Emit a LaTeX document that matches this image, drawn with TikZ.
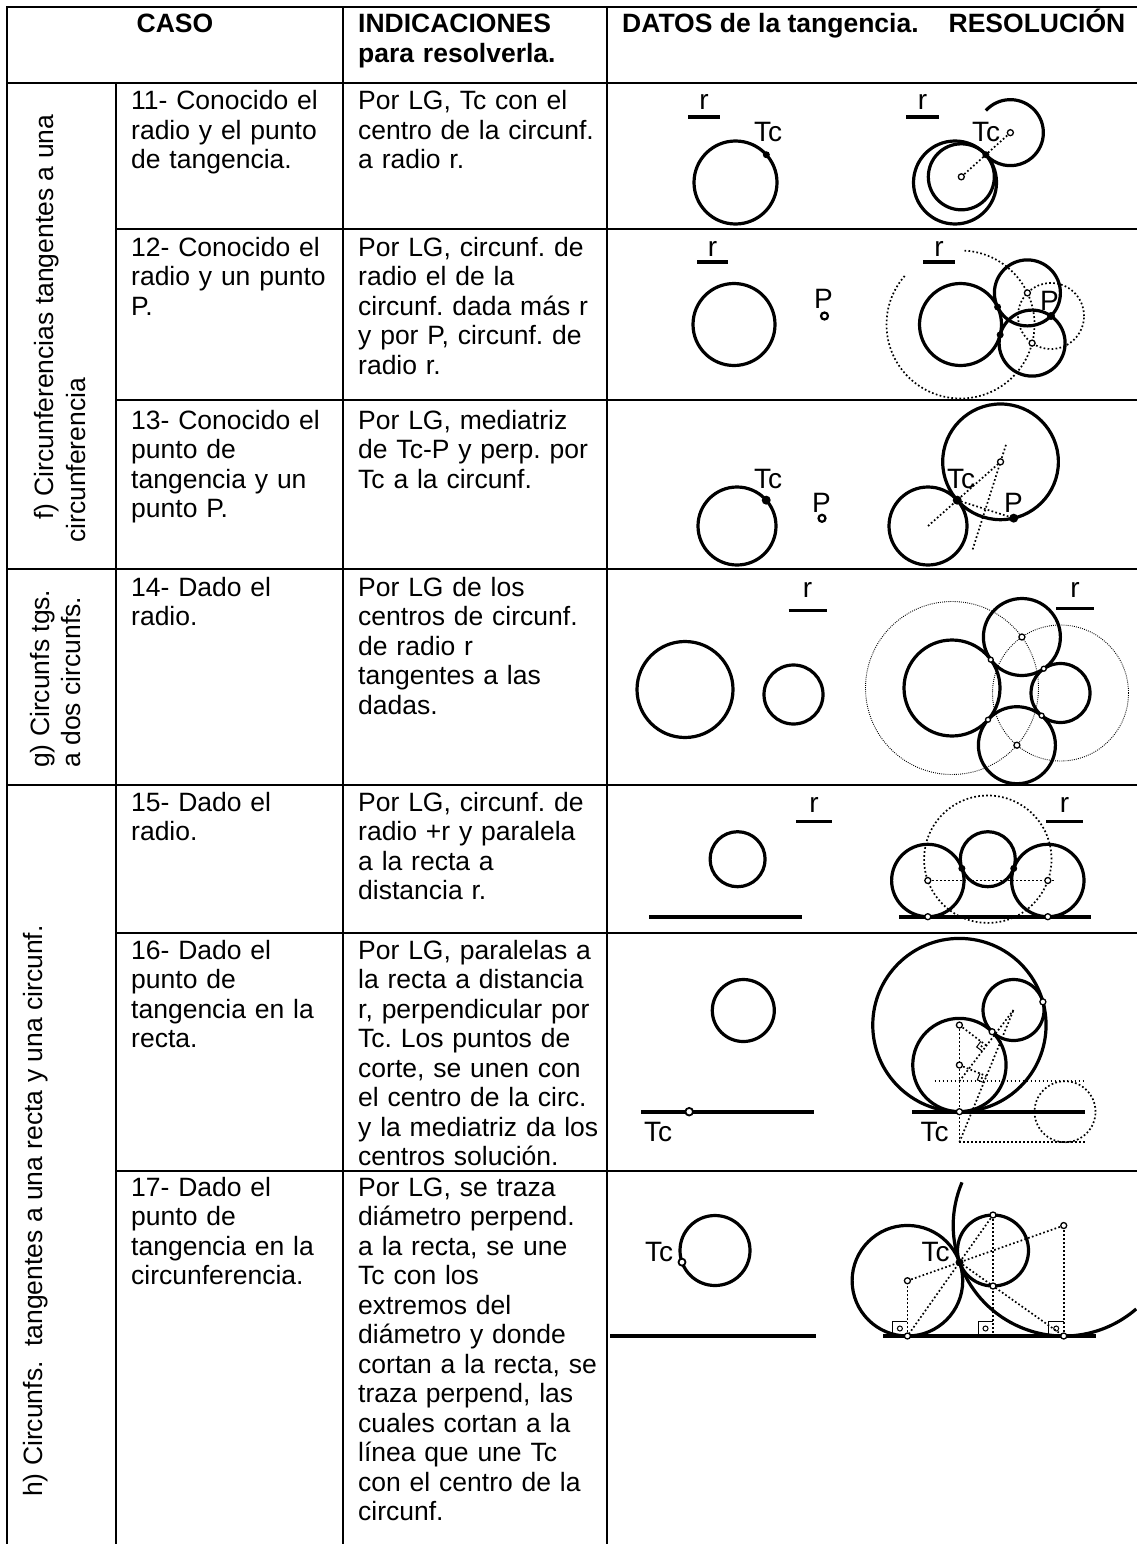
\documentclass[tikz,border=0pt]{standalone}
\usepackage{fontspec}
\setmainfont{Liberation Sans}
\usetikzlibrary{calc}
\frenchspacing

\newcommand\cellfont{\fontsize{26.5}{29.5}\selectfont}
\newcommand\lblfont{\fontsize{28}{30}\selectfont}

\tikzset{
  grid/.style={line width=2.6pt, line cap=rect},
  circ/.style={line width=3.2pt},
  recta/.style={line width=4pt},
  rbar/.style={line width=3.4pt},
  aux/.style={line width=1.7pt, dash pattern=on 1.7pt off 2.3pt},
  auxfine/.style={line width=0.9pt, dash pattern=on 0.9pt off 1.2pt},
  cen/.style={line width=1.3pt, fill=white},
  ring/.style={line width=2.2pt, fill=white},
  angmark/.style={line width=1pt},
  cell/.style={anchor=base west, inner sep=0pt, align=left, text width=250pt, font=\cellfont},
  head/.style={anchor=base west, inner sep=0pt, font=\cellfont\bfseries},
  side/.style={anchor=base west, inner sep=0pt, rotate=90, font=\cellfont},
  lbl/.style={anchor=base west, inner sep=0pt, font=\lblfont},
}

\begin{document}
\begin{tikzpicture}[x=1pt,y=-1pt]
\useasboundingbox (0,0) rectangle (1136,1544);

% table
\draw[grid] (7,7) -- (1136,7);
\draw[grid] (7,83) -- (1136,83);
\draw[grid] (7,569) -- (1136,569);
\draw[grid] (7,785) -- (1136,785);
\foreach \y in {229,400,933,1171} \draw[grid] (116,\y) -- (1136,\y);
\draw[grid] (7,7) -- (7,1544);
\draw[grid] (116,83) -- (116,1544);
\draw[grid] (343,7) -- (343,1544);
\draw[grid] (607,7) -- (607,1544);

% header
\node[head, anchor=base] (caso) at (175,33) {CASO};
\node[head, align=left, text width=250pt] (indic) at (358,33) {INDICACIONES\\para resolverla.};
\node[head] (datos) at (622,33) {DATOS de la tangencia.\hspace{30pt}RESOLUCIÓN};

% groups
\node[side] (f1) at (53,520) {f) Circunferencias tangentes a una};
\node[side] (f2) at (85,543) {circunferencia};
\node[side] (g1) at (49,768) {g) Circunfs tgs.};
\node[side] (g2) at (80,768) {a dos circunfs.};
\node[side] (h1) at (42,1497) {h) Circunfs.\ \ tangentes a una recta y una circunf.};

% cases
\node[cell] (c11) at (131,110) {11- Conocido el\\radio y el punto\\de tangencia.};
\node[cell] (i11) at (358,110) {Por LG, Tc con el\\centro de la circunf.\\a radio r.};
\node[cell] (c12) at (131,256) {12- Conocido el\\radio y un punto\\P.};
\node[cell] (i12) at (358,256) {Por LG, circunf. de\\radio el de la\\circunf. dada más r\\y por P, circunf. de\\radio r.};
\node[cell] (c13) at (131,429) {13- Conocido el\\punto de\\tangencia y un\\punto P.};
\node[cell] (i13) at (358,429) {Por LG, mediatriz\\de Tc-P y perp. por\\Tc a la circunf.};
\node[cell] (c14) at (131,596) {14- Dado el\\radio.};
\node[cell] (i14) at (358,596) {Por LG de los\\centros de circunf.\\de radio r\\tangentes a las\\dadas.};
\node[cell] (c15) at (131,811) {15- Dado el\\radio.};
\node[cell] (i15) at (358,811) {Por LG, circunf. de\\radio +r y paralela\\a la recta a\\distancia r.};
\node[cell] (c16) at (131,959) {16- Dado el\\punto de\\tangencia en la\\recta.};
\node[cell] (i16) at (358,959) {Por LG, paralelas a\\la recta a distancia\\r, perpendicular por\\Tc. Los puntos de\\corte, se unen con\\el centro de la circ.\\y la mediatriz da los\\centros solución.};
\node[cell] (c17) at (131,1196) {17- Dado el\\punto de\\tangencia en la\\circunferencia.};
\node[cell] (i17) at (358,1196) {Por LG, se traza\\diámetro perpend.\\a la recta, se une\\Tc con los\\extremos del\\diámetro y donde\\cortan a la recta, se\\traza perpend, las\\cuales cortan a la\\línea que une Tc\\con el centro de la\\circunf.};

% 11 datos
\coordinate (o11a) at (735.5,182.5);
\coordinate (tc11a) at ($(o11a)+(42:41.5pt)$);
\draw[circ] (o11a) circle[radius=41.5pt];
\fill (tc11a) circle[radius=3.5pt];
\draw[rbar] (688,117) -- (720,117);
\node[lbl, anchor=base] (r11a) at (704,110) {r};
\node[lbl] (tcl11a) at (754,142) {Tc};

% 11 resolucion
\coordinate (o11b) at (955,182.5);
\coordinate (tc11b) at ($(o11b)+(42:41.5pt)$);
\coordinate (ci11) at ($(tc11b)+(222:33pt)$);
\coordinate (ce11) at ($(tc11b)+(42:33pt)$);
\draw[circ] (o11b) circle[radius=41.5pt];
\draw[circ] (ci11) circle[radius=33pt];
\draw[circ] ($(ce11)+(138:33pt)$) arc[start angle=138, end angle=-138, radius=33pt];
\draw[aux] (ci11) -- (ce11);
\draw[cen] (ci11) circle[radius=3pt];
\draw[cen] (ce11) circle[radius=3pt];
\fill (tc11b) circle[radius=3.5pt];
\draw[rbar] (906,117) -- (939,117);
\node[lbl, anchor=base] (r11b) at (922.5,110) {r};
\node[lbl] (tcl11b) at (972,142) {Tc};

% 12 datos
\coordinate (o12a) at (734,324.5);
\coordinate (p12a) at (824.5,316);
\draw[circ] (o12a) circle[radius=41pt];
\draw[ring] (p12a) circle[radius=3.5pt];
\draw[rbar] (697,262) -- (728,262);
\node[lbl, anchor=base] (r12a) at (712.5,256) {r};
\node[lbl] (pl12a) at (814,308) {P};

% 12 resolucion
\coordinate (o12b) at (960.5,324.5);
\coordinate (p12b) at (1051,316);
\coordinate (s12a) at (1027.4,292.9);
\coordinate (s12b) at (1032.1,343.1);
\draw[aux] ($(o12b)+(139:74pt)$) arc[start angle=139, end angle=448, radius=74pt];
\draw[aux] (p12b) circle[radius=33pt];
\draw[circ] (o12b) circle[radius=41pt];
\draw[circ] (s12a) circle[radius=33pt];
\draw[circ] (s12b) circle[radius=33pt];
\draw[cen] (s12a) circle[radius=3pt];
\draw[cen] (s12b) circle[radius=3pt];
\fill ($(o12b)!41pt!(s12a)$) circle[radius=3.5pt];
\fill ($(o12b)!41pt!(s12b)$) circle[radius=3.5pt];
\fill (p12b) circle[radius=4pt];
\draw[rbar] (923,262) -- (955,262);
\node[lbl, anchor=base] (r12b) at (939,256) {r};
\node[lbl] (pl12b) at (1040,310) {P};

% 13 datos
\coordinate (o13a) at (737,526);
\coordinate (tc13a) at ($(o13a)+(41.5:39pt)$);
\coordinate (p13a) at (822,518.3);
\draw[circ] (o13a) circle[radius=39pt];
\fill (tc13a) circle[radius=4.5pt];
\draw[ring] (p13a) circle[radius=3.5pt];
\node[lbl] (tcl13a) at (754,488) {Tc};
\node[lbl] (pl13a) at (812,512) {P};

% 13 resolucion
\coordinate (o13b) at (928,526);
\coordinate (tc13b) at ($(o13b)+(41.5:39pt)$);
\coordinate (p13b) at ($(tc13b)+(56.5,18)$);
\coordinate (s13) at ($(tc13b)+(41.5:57.85pt)$);
\coordinate (m13) at ($(tc13b)!0.5!(p13b)$);
\draw[circ] (o13b) circle[radius=39pt];
\draw[circ] (s13) circle[radius=57.85pt];
\draw[aux] (o13b) -- (s13);
\draw[aux] (tc13b) -- (p13b);
\draw[aux] ($(s13)!1.85!(m13)$) -- ($(m13)!1.4!(s13)$);
\draw[cen] (s13) circle[radius=3pt];
\fill (tc13b) circle[radius=4.5pt];
\fill (p13b) circle[radius=4.5pt];
\node[lbl] (tcl13b) at (947,488) {Tc};
\node[lbl] (pl13b) at (1004,512) {P};

% 14 datos
\draw[circ] (685,689.5) circle[radius=48pt];
\draw[circ] (793.5,694.5) circle[radius=29.5pt];
\draw[rbar] (788.5,610.5) -- (826.5,610.5);
\node[lbl, anchor=base] (r14a) at (807.5,597) {r};

% 14 resolucion
\coordinate (q14a) at (952,688);
\coordinate (q14b) at (1060.5,693);
\coordinate (s14a) at (1021.9,637);
\coordinate (s14b) at (1016.9,745.2);
\draw[auxfine] (q14a) circle[radius=86.5pt];
\draw[auxfine] (q14b) circle[radius=68pt];
\draw[circ] (q14a) circle[radius=48pt];
\draw[circ] (q14b) circle[radius=29.5pt];
\draw[circ] (s14a) circle[radius=38.5pt];
\draw[circ] (s14b) circle[radius=38.5pt];
\draw[cen] (s14a) circle[radius=3pt];
\draw[cen] (s14b) circle[radius=3pt];
\foreach \s in {s14a,s14b} {
  \draw[cen] ($(q14a)!48pt!(\s)$) circle[radius=2.5pt];
  \draw[cen] ($(q14b)!29.5pt!(\s)$) circle[radius=2.5pt];
}
\draw[rbar] (1056,608.5) -- (1093.5,608.5);
\node[lbl, anchor=base] (r14b) at (1075,597) {r};

% 15 datos
\draw[circ] (737.6,859.2) circle[radius=27.5pt];
\draw[recta] (649,916.7) -- (802.3,916.7);
\draw[rbar] (796,821.7) -- (831.8,821.7);
\node[lbl, anchor=base] (r15a) at (814,812.5) {r};

% 15 resolucion
\coordinate (o15b) at (987.8,859.2);
\coordinate (s15a) at (927.8,880.5);
\coordinate (s15b) at (1047.8,880.5);
\coordinate (l15) at (0,916.7);
\draw[aux] (o15b) circle[radius=63.7pt];
\draw[aux] (s15a) -- (1055,880.5);
\draw[recta] (899,916.7) -- (1090.6,916.7);
\draw[circ] (o15b) circle[radius=27.5pt];
\draw[circ] (s15a) circle[radius=36.2pt];
\draw[circ] (s15b) circle[radius=36.2pt];
\foreach \s in {s15a,s15b} {
  \draw[cen] (\s) circle[radius=3pt];
  \draw[cen] (\s |- l15) circle[radius=3pt];
  \fill ($(o15b)!27.5pt!(\s)$) circle[radius=3.5pt];
}
\draw[rbar] (1046.3,821.7) -- (1082.8,821.7);
\node[lbl, anchor=base] (r15b) at (1064.5,812.5) {r};

% 16 datos
\draw[circ] (743.3,1010.5) circle[radius=31pt];
\draw[recta] (641,1111.7) -- (814,1111.7);
\draw[line width=1.8pt, fill=white] (689.2,1111.7) circle[radius=3.8pt];
\node[lbl] (tcl16a) at (644,1141.7) {Tc};

% 16 resolucion
\coordinate (t16) at (959.4,1111.7);
\coordinate (o16b) at (1013.5,1010);
\coordinate (s16a) at (959.4,1025.05);
\coordinate (s16b) at (959.4,1065.03);
\coordinate (a16a) at (959.4,1081.2);
\coordinate (a16b) at (959.4,1142.2);
\coordinate (m16a) at ($(a16a)!0.5!(o16b)$);
\coordinate (m16b) at ($(a16b)!0.5!(o16b)$);
\draw[aux] (934.6,1081.2) -- (1085.3,1081.2);
\draw[aux] (a16b) -- (1085.3,1142.2);
\draw[aux] (s16a) -- (a16b);
\draw[aux] (a16a) -- (o16b);
\draw[aux] (a16b) -- (o16b);
\draw[aux] (s16a) -- (m16a);
\draw[aux] (s16b) -- (m16b);
\draw[aux] (1065,1111.7) circle[radius=30.5pt];
\foreach \m/\s/\a in {m16a/s16a/a16a,m16b/s16b/a16b} {
  \draw[angmark] ($(\m)!7pt!(\s)$) -- ($($(\m)!7pt!(\s)$)+($(\m)!7pt!(\a)$)-(\m)$) -- ($(\m)!7pt!(\a)$);
  \fill ($(\m)!0.5!($($(\m)!7pt!(\s)$)+($(\m)!7pt!(\a)$)-(\m)$)$) circle[radius=1.2pt];
}
\draw[recta] (912.3,1111.7) -- (1085.3,1111.7);
\draw[circ] (o16b) circle[radius=30.5pt];
\draw[circ] (s16a) circle[radius=86.65pt];
\draw[circ] (s16b) circle[radius=46.67pt];
\draw[cen] (s16a) circle[radius=3pt];
\draw[cen] (s16b) circle[radius=3pt];
\draw[cen] (t16) circle[radius=3pt];
\draw[cen] ($(s16a)!86.65pt!(o16b)$) circle[radius=3pt];
\draw[cen] ($(o16b)!30.5pt!(s16b)$) circle[radius=3pt];
\node[lbl] (tcl16b) at (920.4,1141.7) {Tc};

% 17 datos
\coordinate (o17a) at (715,1250.5);
\draw[circ] (o17a) circle[radius=35pt];
\draw[recta] (610,1336) -- (816,1336);
\draw[line width=1.8pt, fill=white] ($(o17a)+(199.45:35pt)$) circle[radius=3.5pt];
\node[lbl] (tcl17a) at (645,1261.7) {Tc};

% 17 resolucion
\coordinate (o17b) at (993,1250.5);
\coordinate (tc17b) at ($(o17b)+(199.45:35.5pt)$);
\coordinate (s17a) at ($(o17b)+(199.45:90.77pt)$);
\coordinate (s17b) at ($(o17b)+(19.45:75pt)$);
\coordinate (d17a) at (993,1215);
\coordinate (d17b) at (993,1286);
\coordinate (l17) at (0,1336);
\coordinate (a17) at (s17a |- l17);
\coordinate (b17) at (s17b |- l17);
\coordinate (e17) at (o17b |- l17);
\draw[aux] (d17a) -- (a17);
\draw[aux] (tc17b) -- (b17);
\draw[aux] (s17a) -- (s17b);
\draw[aux] (a17) -- (s17a);
\draw[aux] (b17) -- (s17b);
\draw[aux] (d17a) -- (e17);
\foreach \x in {907.4,993,1063.7} {
  \draw[angmark] (\x-15,1336) -- (\x-15,1321) -- (\x,1321);
  \draw[angmark] (\x-7.5,1328.5) circle[radius=2.5pt];
}
\draw[recta] (883,1336) -- (1096.4,1336);
\draw[circ] (o17b) circle[radius=35.5pt];
\draw[circ] (s17a) circle[radius=55.3pt];
\draw[circ] ($(s17b)+(157:110.5pt)$) arc[start angle=157, end angle=311, radius=110.5pt];
\foreach \p in {d17a,d17b,s17a,s17b,a17,b17}
  \draw[cen] (\p) circle[radius=3pt];
\fill (tc17b) circle[radius=4pt];
\node[lbl] (tcl17b) at (921.4,1261.7) {Tc};
\end{tikzpicture}
\end{document}
